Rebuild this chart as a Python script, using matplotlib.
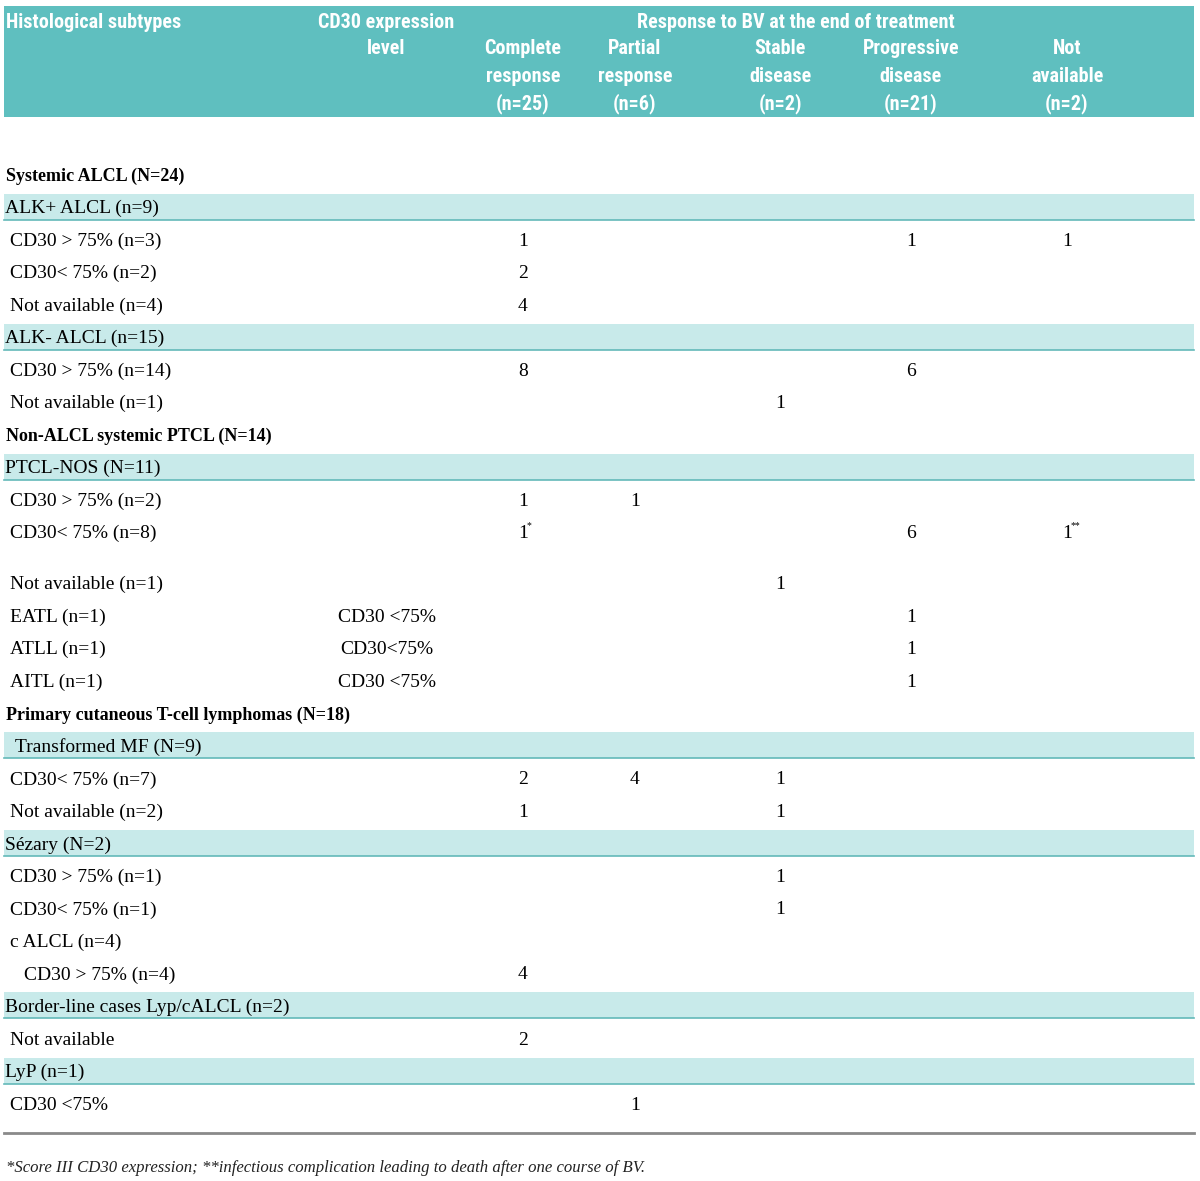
"""
Response to brentuximab vedotin by histological subtype and CD30 level
Table re-drawn with matplotlib text
"""

import matplotlib
matplotlib.use('Agg')
import matplotlib.pyplot as plt
from matplotlib.patches import Rectangle
from matplotlib import font_manager

# Column headers
header_cols = ['Complete\nresponse\n(n=25)', 'Partial\nresponse\n(n=6)',
               'Stable\ndisease\n(n=2)', 'Progressive\ndisease\n(n=21)',
               'Not\navailable\n(n=2)']

# Rows: label, kind, CD30 level, then the five response columns
row_labels = [
    'Systemic ALCL (N=24)', 'ALK+ ALCL (n=9)', 'CD30 > 75% (n=3)',
    'CD30< 75% (n=2)', 'Not available (n=4)', 'ALK- ALCL (n=15)',
    'CD30 > 75% (n=14)', 'Not available (n=1)',
    'Non-ALCL systemic PTCL (N=14)', 'PTCL-NOS (N=11)', 'CD30 > 75% (n=2)',
    'CD30< 75% (n=8)', 'Not available (n=1)', 'EATL (n=1)', 'ATLL (n=1)',
    'AITL (n=1)', 'Primary cutaneous T-cell lymphomas (N=18)',
    'Transformed MF (N=9)', 'CD30< 75% (n=7)', 'Not available (n=2)',
    'Sézary (N=2)', 'CD30 > 75% (n=1)', 'CD30< 75% (n=1)', 'c ALCL (n=4)',
    'CD30 > 75% (n=4)', 'Border-line cases Lyp/cALCL (n=2)',
    'Not available', 'LyP (n=1)', 'CD30 <75%',
]
row_kind = [
    'group', 'sub', 'item', 'item', 'item', 'sub', 'item', 'item',
    'group', 'sub', 'item', 'item', 'item', 'item', 'item', 'item',
    'group', 'sub2', 'item', 'item', 'sub', 'item', 'item', 'item',
    'subitem', 'sub', 'item', 'sub', 'item',
]
cd30_level = ['', '', '', '', '', '', '', '', '', '', '', '', '',
              'CD30 <75%', 'CD30<75%', 'CD30 <75%',
              '', '', '', '', '', '', '', '', '', '', '', '', '']
complete = ['', '', '1', '2', '4', '', '8', '', '', '', '1', '1*', '', '', '',
            '', '', '', '2', '1', '', '', '', '', '4', '', '2', '', '']
partial = ['', '', '', '', '', '', '', '', '', '', '1', '', '', '', '',
           '', '', '', '4', '', '', '', '', '', '', '', '', '', '1']
stable = ['', '', '', '', '', '', '', '1', '', '', '', '', '1', '', '',
          '', '', '', '1', '1', '', '1', '1', '', '', '', '', '', '']
progressive = ['', '', '1', '', '', '', '6', '', '', '', '', '6', '', '1', '1',
               '1', '', '', '', '', '', '', '', '', '', '', '', '', '']
not_avail = ['', '', '1', '', '', '', '', '', '', '', '', '1**', '', '', '',
             '', '', '', '', '', '', '', '', '', '', '', '', '', '']

footnote = ('*Score III CD30 expression; **infectious complication '
            'leading to death after one course of BV.')

TEAL = '#5fbfbf'
BAND = '#c8eaea'
BAND_LINE = '#63b9b9'
BODY_FONT = ['Liberation Serif', 'DejaVu Serif']

# pick a condensed sans for the header if one is installed
installed = {f.name for f in font_manager.fontManager.ttflist}
head_size = 12.2
HEAD_FONT = ['Liberation Sans', 'DejaVu Sans']
for name in ['Liberation Sans Narrow', 'DejaVu Sans Condensed',
             'Roboto Condensed', 'Open Sans Condensed']:
    if name in installed:
        HEAD_FONT = [name, 'DejaVu Sans']
        head_size = 14.5
        break

fig = plt.figure(figsize=(12, 11.81), dpi=100)
ax = fig.add_axes([0, 0, 1, 1])
ax.set_xlim(0, 1200)
ax.set_ylim(1181, 0)
ax.axis('off')

# header band
ax.add_patch(Rectangle((4, 6), 1190, 111, color=TEAL, lw=0))
hkw = dict(color='white', fontweight='bold', family=HEAD_FONT,
           fontsize=head_size, va='center_baseline')
ax.text(6, 20, 'Histological subtypes', ha='left', **hkw)
ax.text(386, 20, 'CD30 expression', ha='center', **hkw)
ax.text(386, 47, 'level', ha='center', **hkw)
ax.text(796, 20, 'Response to BV at the end of treatment', ha='center', **hkw)

col_x = [523, 635, 780, 911, 1067]
for cx, lab in zip(col_x, header_cols):
    for j, line in enumerate(lab.split('\n')):
        ax.text(cx, 47 + j * 27, line, ha='center', **hkw)

# body rows
row_step = 32.52
y = 174
columns = [complete, partial, stable, progressive, not_avail]
indent = {'group': 6, 'sub': 5, 'sub2': 15, 'item': 10, 'subitem': 24}

for i, lab in enumerate(row_labels):
    if i == 12:
        y += 18.5
    kind = row_kind[i]
    if kind in ('sub', 'sub2'):
        ax.add_patch(Rectangle((4, y - 13), 1190, 26, color=BAND, lw=0))
        ax.plot([4, 1194], [y + 13, y + 13], color=BAND_LINE, lw=1.2)
    if kind == 'group':
        ax.text(indent[kind], y, lab, ha='left', va='center_baseline',
                family=BODY_FONT, fontsize=13, fontweight='bold')
    else:
        ax.text(indent[kind], y, lab, ha='left', va='center_baseline',
                family=BODY_FONT, fontsize=14)
    if cd30_level[i]:
        ax.text(387, y, cd30_level[i], ha='center', va='center_baseline',
                family=BODY_FONT, fontsize=14)
    for cx, col in zip(col_x, columns):
        val = col[i]
        if not val:
            continue
        num = val.rstrip('*')
        stars = val[len(num):]
        ax.text(cx, y, num, ha='center', va='center_baseline',
                family=BODY_FONT, fontsize=14)
        if stars:
            ax.text(cx + 4, y - 6, stars, ha='left', va='center',
                    family=BODY_FONT, fontsize=7)
    y += row_step

# bottom rule and footnote
ax.plot([4, 1194], [1133, 1133], color='#8a8a8a', lw=2)
ax.text(6, 1166, footnote, ha='left', va='center_baseline', family=BODY_FONT,
        fontsize=12.1, style='italic', color='#222222')

fig.savefig('out.png', dpi=100)
